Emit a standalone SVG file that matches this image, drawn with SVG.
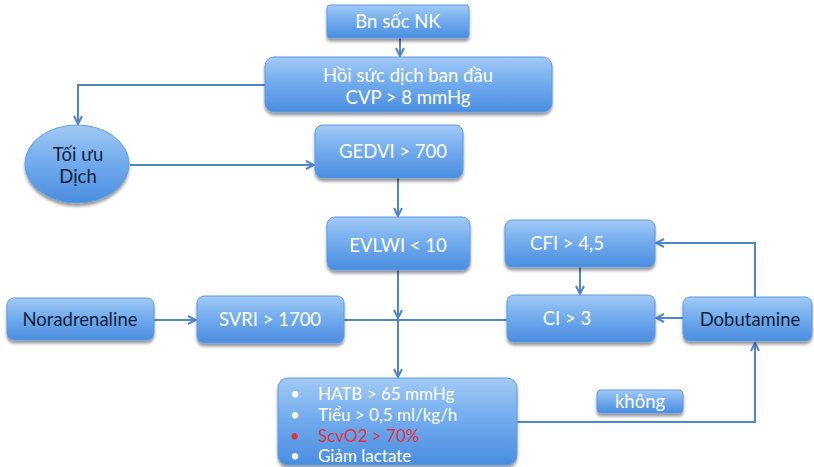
<svg xmlns="http://www.w3.org/2000/svg" width="814" height="467" viewBox="0 0 814 467">
  <defs>
    <linearGradient id="fillBlue" x1="0" y1="0" x2="0" y2="1">
      <stop offset="0" stop-color="#a2caf6"/>
      <stop offset="0.45" stop-color="#74adee"/>
      <stop offset="1" stop-color="#4a8de0"/>
    </linearGradient>
    <filter id="shadow" x="-10%" y="-10%" width="120%" height="130%">
      <feGaussianBlur in="SourceAlpha" stdDeviation="1.8"/>
      <feOffset dx="0" dy="2.5" result="b"/>
      <feComponentTransfer><feFuncA type="linear" slope="0.4"/></feComponentTransfer>
      <feMerge><feMergeNode/><feMergeNode in="SourceGraphic"/></feMerge>
    </filter>
    <marker id="arrow" viewBox="0 0 10 10" refX="9" refY="5" markerWidth="10" markerHeight="10" markerUnits="userSpaceOnUse" orient="auto">
      <path d="M1,1 L9,5 L1,9" fill="none" stroke="#4f86c6" stroke-width="2"/>
    </marker>
  </defs>
  <style>
    .box { fill: url(#fillBlue); stroke: #5f9ae0; stroke-width: 1; filter: url(#shadow); }
    .lbl { font-family: Lato, "Open Sans", "Liberation Sans", sans-serif; font-size: 18.5px; fill: #ffffff; text-anchor: middle; }
    .dark { fill: #14213a; }
    .conn { fill: none; stroke: #4f86c6; stroke-width: 2; }
    .bul { font-family: Lato, "Open Sans", "Liberation Sans", sans-serif; font-size: 17px; fill: #ffffff; }
    .red { fill: #e0343c; }
  </style>
  <rect width="814" height="467" fill="#ffffff"/>

  <g id="connectors">
    <path class="conn" d="M400,38 V56" marker-end="url(#arrow)"/>
    <path class="conn" d="M265,85 H78 V124" marker-end="url(#arrow)"/>
    <path class="conn" d="M130,165 H314" marker-end="url(#arrow)"/>
    <path class="conn" d="M398,178 V216" marker-end="url(#arrow)"/>
    <path class="conn" d="M398,270 V318" marker-end="url(#arrow)"/>
    <path class="conn" d="M154,320 H196" marker-end="url(#arrow)"/>
    <path class="conn" d="M344,320 H507"/>
    <path class="conn" d="M398,320 V377" marker-end="url(#arrow)"/>
    <path class="conn" d="M580,267 V294" marker-end="url(#arrow)"/>
    <path class="conn" d="M683,318 H656" marker-end="url(#arrow)"/>
    <path class="conn" d="M755,297 V243 H656" marker-end="url(#arrow)"/>
    <path class="conn" d="M517,422 H755 V343" marker-end="url(#arrow)"/>
  </g>

  <g id="bn-soc-nk">
    <rect class="box" x="327" y="5" width="142" height="33" rx="3"/>
    <text class="lbl" x="398" y="28">Bn sốc NK</text>
  </g>
  <g id="hoi-suc-dich">
    <rect class="box" x="265" y="57" width="287" height="55" rx="9"/>
    <text class="lbl" x="408" y="82">Hồi sức dịch ban đầu</text>
    <text class="lbl" x="408" y="104">CVP &gt; 8 mmHg</text>
  </g>
  <g id="toi-uu-dich">
    <ellipse class="box" cx="77" cy="164" rx="52" ry="39"/>
    <text class="lbl dark" x="78" y="161">Tối ưu</text>
    <text class="lbl dark" x="78" y="183">Dịch</text>
  </g>
  <g id="gedvi">
    <rect class="box" x="315" y="125" width="148" height="53" rx="8"/>
    <text class="lbl" x="393" y="158">GEDVI &gt; 700</text>
  </g>
  <g id="evlwi">
    <rect class="box" x="327" y="217" width="143" height="53" rx="8"/>
    <text class="lbl" x="398" y="252">EVLWI &lt; 10</text>
  </g>
  <g id="noradrenaline">
    <rect class="box" x="7" y="298" width="147" height="42" rx="7"/>
    <text class="lbl dark" x="80" y="326">Noradrenaline</text>
  </g>
  <g id="svri">
    <rect class="box" x="197" y="296" width="147" height="47" rx="7"/>
    <text class="lbl" x="270" y="326">SVRI &gt; 1700</text>
  </g>
  <g id="cfi">
    <rect class="box" x="505" y="220" width="150" height="47" rx="7"/>
    <text class="lbl" x="567" y="250">CFI &gt; 4,5</text>
  </g>
  <g id="ci">
    <rect class="box" x="507" y="295" width="148" height="47" rx="7"/>
    <text class="lbl" x="567" y="325">CI &gt; 3</text>
  </g>
  <g id="dobutamine">
    <rect class="box" x="683" y="297" width="129" height="44" rx="7"/>
    <text class="lbl dark" x="750" y="326">Dobutamine</text>
  </g>
  <g id="muc-tieu">
    <rect class="box" x="278" y="378" width="239" height="87" rx="10"/>
    <text class="bul" x="290" y="400">•</text>
    <text class="bul" x="318" y="400">HATB &gt; 65 mmHg</text>
    <text class="bul" x="290" y="421">•</text>
    <text class="bul" x="318" y="421">Tiểu &gt; 0,5 ml/kg/h</text>
    <text class="bul red" x="290" y="442">•</text>
    <text class="bul red" x="318" y="442">ScvO2 &gt; 70%</text>
    <text class="bul" x="290" y="462">•</text>
    <text class="bul" x="318" y="462">Giảm lactate</text>
  </g>
  <g id="khong">
    <rect class="box" x="597" y="390" width="86" height="23" rx="4"/>
    <text class="lbl" x="640" y="408">không</text>
  </g>
</svg>
